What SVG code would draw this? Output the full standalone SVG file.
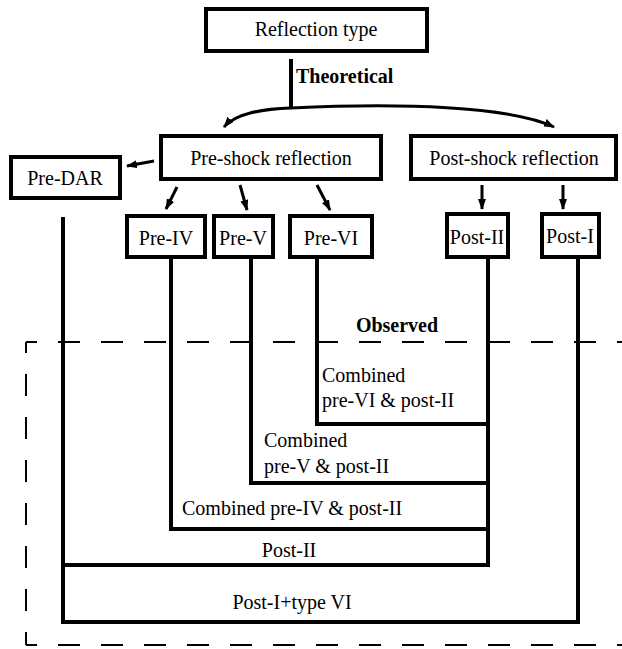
<svg xmlns="http://www.w3.org/2000/svg" width="622" height="649" viewBox="0 0 622 649" font-family="Liberation Serif, Times New Roman, serif" font-size="20">
  <style>
    .box { fill: #fff; stroke: #000; stroke-width: 4; }
    .mid { text-anchor: middle; }
    .bold { font-weight: bold; }
    .wire { fill: none; stroke: #000; stroke-width: 4; stroke-linecap: square; }
    .arrow { fill: none; stroke: #000; stroke-width: 3; marker-end: url(#head); }
    .dash { fill: none; stroke: #000; stroke-width: 2; stroke-dasharray: 22 21; stroke-dashoffset: 11; }
  </style>
  <defs>
    <marker id="head" markerUnits="userSpaceOnUse" markerWidth="11" markerHeight="8" refX="10" refY="4" orient="auto">
      <path d="M0,0 L11,4 L0,8 Z" fill="#000"/>
    </marker>
  </defs>

  <!-- observed region frame -->
  <g id="observed-frame">
    <line class="dash" x1="26" y1="342" x2="622" y2="342"/>
    <line class="dash" x1="26" y1="342" x2="26" y2="645"/>
    <line class="dash" x1="26" y1="645" x2="622" y2="645"/>
  </g>

  <g id="connectors">
    <!-- theoretical split -->
    <line class="wire" x1="291" y1="61" x2="291" y2="107"/>
    <path class="arrow" d="M291,108 C262,109 236,113 224,127"/>
    <path class="arrow" d="M291,108 C400,103 510,106 554,127"/>
    <!-- pre-shock branches -->
    <line class="arrow" x1="154" y1="161" x2="127" y2="166"/>
    <line class="arrow" x1="177" y1="187" x2="166" y2="209"/>
    <line class="arrow" x1="240" y1="185" x2="247" y2="210"/>
    <line class="arrow" x1="317" y1="185" x2="330" y2="210"/>
    <!-- post-shock branches -->
    <line class="arrow" x1="482" y1="185" x2="482" y2="209"/>
    <line class="arrow" x1="563" y1="185" x2="563" y2="209"/>
    <!-- observed combinations -->
    <polyline class="wire" points="317,258 317,424 488,424"/>
    <polyline class="wire" points="251,258 251,483 488,483"/>
    <polyline class="wire" points="171,258 171,529 488,529"/>
    <polyline class="wire" points="488,258 488,565 63,565"/>
    <polyline class="wire" points="63,219 63,622 578,622 578,258"/>
  </g>

  <g id="reflection-type">
    <rect class="box" x="206" y="9" width="221" height="42"/>
    <text class="mid" x="316" y="36">Reflection type</text>
  </g>
  <g id="pre-shock">
    <rect class="box" x="161" y="136" width="220" height="43"/>
    <text class="mid" x="271" y="165">Pre-shock reflection</text>
  </g>
  <g id="post-shock">
    <rect class="box" x="411" y="136" width="205" height="43"/>
    <text class="mid" x="514" y="165">Post-shock reflection</text>
  </g>
  <g id="pre-dar">
    <rect class="box" x="11" y="157" width="109" height="41"/>
    <text class="mid" x="65" y="185">Pre-DAR</text>
  </g>
  <g id="pre-iv">
    <rect class="box" x="127" y="216" width="78" height="41"/>
    <text class="mid" x="166" y="245">Pre-IV</text>
  </g>
  <g id="pre-v">
    <rect class="box" x="214" y="216" width="59" height="41"/>
    <text class="mid" x="243" y="245">Pre-V</text>
  </g>
  <g id="pre-vi">
    <rect class="box" x="290" y="216" width="82" height="41"/>
    <text class="mid" x="331" y="245">Pre-VI</text>
  </g>
  <g id="post-ii">
    <rect class="box" x="447" y="214" width="61" height="43"/>
    <text class="mid" x="477" y="244">Post-II</text>
  </g>
  <g id="post-i">
    <rect class="box" x="542" y="214" width="57" height="43"/>
    <text class="mid" x="570" y="243">Post-I</text>
  </g>

  <g id="labels">
    <text class="bold" x="296" y="83">Theoretical</text>
    <text class="bold mid" x="397" y="332">Observed</text>
    <text x="322" y="382">Combined</text>
    <text x="322" y="407">pre-VI &amp; post-II</text>
    <text x="264" y="447">Combined</text>
    <text x="264" y="473">pre-V &amp; post-II</text>
    <text x="182" y="515">Combined pre-IV &amp; post-II</text>
    <text class="mid" x="289" y="557">Post-II</text>
    <text class="mid" x="292" y="609">Post-I+type VI</text>
  </g>
</svg>
